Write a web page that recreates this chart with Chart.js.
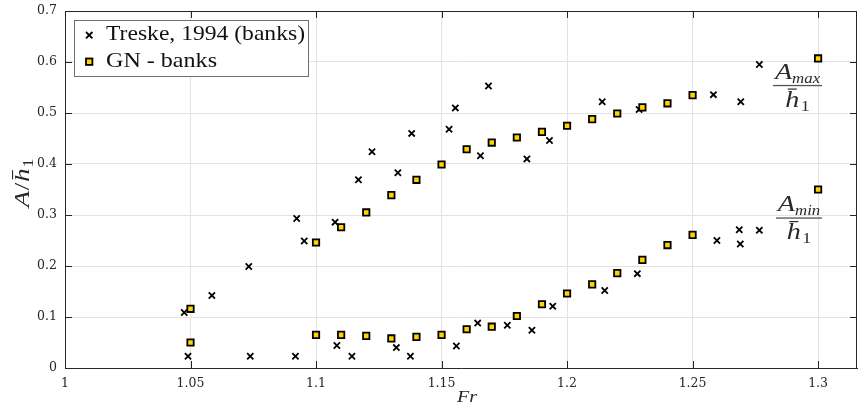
<!DOCTYPE html>
<html>
<head>
<meta charset="utf-8">
<script src="https://cdn.jsdelivr.net/npm/chart.js@4/dist/chart.umd.min.js"></script>
<style>
  html, body { margin: 0; padding: 0; background: #fff; }
  #wrap { width: 859px; height: 416px; }
</style>
</head>
<body>
<div id="wrap"><canvas id="chart" width="859" height="416"></canvas></div>
<script>
// axis ticks
const xTicks = [1, 1.05, 1.1, 1.15, 1.2, 1.25, 1.3];
const xTickLabels = ['1', '1.05', '1.1', '1.15', '1.2', '1.25', '1.3'];
const yTicks = [0, 0.1, 0.2, 0.3, 0.4, 0.5, 0.6, 0.7];
const yTickLabels = ['0', '0.1', '0.2', '0.3', '0.4', '0.5', '0.6', '0.7'];

// GN model, banks
const gnFr  = [1.05, 1.10, 1.11, 1.12, 1.13, 1.14, 1.15, 1.16, 1.17, 1.18, 1.19, 1.20, 1.21, 1.22, 1.23, 1.24, 1.25, 1.30];
const gnMax = [0.116, 0.246, 0.276, 0.305, 0.339, 0.369, 0.399, 0.429, 0.442, 0.452, 0.463, 0.475, 0.488, 0.499, 0.511, 0.519, 0.535, 0.607];
const gnMin = [0.050, 0.065, 0.065, 0.063, 0.058, 0.061, 0.065, 0.076, 0.081, 0.102, 0.125, 0.146, 0.164, 0.186, 0.212, 0.241, 0.261, 0.350];

// Treske (1994) measurements
const trMaxFr = [1.0475, 1.0585, 1.0732, 1.0923, 1.0953, 1.1076, 1.1169, 1.1223, 1.1326, 1.1381, 1.1530, 1.1555, 1.1655, 1.1687, 1.1840, 1.1930, 1.2140, 1.2287, 1.2583, 1.2692, 1.2766];
const trMax   = [0.109, 0.142, 0.199, 0.293, 0.249, 0.286, 0.369, 0.424, 0.383, 0.460, 0.468, 0.510, 0.416, 0.553, 0.410, 0.446, 0.522, 0.507, 0.536, 0.522, 0.595];
const trMinFr = [1.0490, 1.0738, 1.0918, 1.1083, 1.1143, 1.1320, 1.1376, 1.1559, 1.1644, 1.1762, 1.1860, 1.1943, 1.2150, 1.2280, 1.2597, 1.2686, 1.2690, 1.2766];
const trMin   = [0.023, 0.023, 0.023, 0.044, 0.023, 0.040, 0.023, 0.043, 0.088, 0.084, 0.074, 0.121, 0.152, 0.185, 0.250, 0.271, 0.243, 0.270];

const legendLabels = ['Treske, 1994 (banks)', 'GN - banks'];

const AXIS = '#262626';
const GRID = '#e3e3e3';
const GOLD = '#ffd400';
const TICK_FONT = { family: 'DejaVu Serif', size: 12.5 };

function pts(xs, ys) {
    return xs.map((x, i) => ({ x: x, y: ys[i] }));
}

const squareStyle = {
    pointStyle: 'rect', pointRadius: 4.5, pointBorderWidth: 1.8,
    pointBackgroundColor: GOLD, pointBorderColor: '#000', showLine: false
};
const crossStyle = {
    pointStyle: 'crossRot', pointRadius: 4.4, pointBorderWidth: 1.8,
    pointBorderColor: '#000', pointBackgroundColor: '#000', showLine: false
};

// draws a run of text pieces left to right, returns end x
function run(ctx, x, y, parts, draw) {
    parts.forEach(p => {
        ctx.font = p.font;
        if (draw) ctx.fillText(p.t, x, y + (p.dy || 0));
        x += ctx.measureText(p.t).width + (p.kern || 0);
    });
    return x;
}

function runCentered(ctx, cx, y, parts) {
    const w = run(ctx, 0, 0, parts, false);
    run(ctx, cx - w / 2, y, parts, true);
    return cx - w / 2;
}

const IT = (s) => 'italic ' + s + 'px "Liberation Serif"';
const UP = (s) => s + 'px "Liberation Serif"';

// A_sub / h-bar_1 written as a stacked fraction
function drawFraction(ctx, cx, lineY, x0, x1, sub) {
    ctx.save();
    ctx.fillStyle = '#2a2a2a';
    ctx.translate(cx, 0);
    ctx.scale(1.2, 1);
    ctx.textBaseline = 'alphabetic';
    runCentered(ctx, 0, lineY - 7, [
        { t: 'A', font: IT(23.5), kern: 0 },
        { t: sub, font: IT(14), dy: 4 }
    ]);
    const hx = runCentered(ctx, 0, lineY + 21, [
        { t: 'h', font: IT(23.5), kern: 1 },
        { t: '1', font: UP(15), dy: 4 }
    ]);
    ctx.fillRect(hx + 2, lineY + 3, 7.5, 1.2);
    ctx.restore();
    ctx.fillStyle = '#555';
    ctx.fillRect(x0, lineY - 0.6, x1 - x0, 1.3);
}

const decor = {
    id: 'decor',
    afterDraw(chart) {
        const ctx = chart.ctx;
        const a = chart.chartArea;
        const xs = chart.scales.x, ys = chart.scales.y;

        // box and inward ticks
        ctx.save();
        ctx.strokeStyle = AXIS;
        ctx.lineWidth = 1;
        ctx.beginPath();
        ctx.moveTo(a.left, a.top + 0.5); ctx.lineTo(a.right, a.top + 0.5);
        ctx.moveTo(a.right - 0.5, a.top); ctx.lineTo(a.right - 0.5, a.bottom);
        xTicks.forEach(v => {
            const px = Math.round(xs.getPixelForValue(v)) + 0.5;
            ctx.moveTo(px, a.bottom); ctx.lineTo(px, a.bottom - 7);
            ctx.moveTo(px, a.top); ctx.lineTo(px, a.top + 7);
        });
        yTicks.forEach(v => {
            const py = Math.round(ys.getPixelForValue(v)) + 0.5;
            ctx.moveTo(a.left, py); ctx.lineTo(a.left + 7, py);
            ctx.moveTo(a.right, py); ctx.lineTo(a.right - 7, py);
        });
        ctx.stroke();
        ctx.restore();

        // legend
        ctx.save();
        ctx.fillStyle = '#fff';
        ctx.fillRect(74, 20, 234, 56);
        ctx.strokeStyle = '#6e6e6e';
        ctx.lineWidth = 1;
        ctx.strokeRect(74.5, 20.5, 234, 56);
        // cross marker
        ctx.strokeStyle = '#000';
        ctx.lineWidth = 1.8;
        ctx.beginPath();
        ctx.moveTo(86, 32); ctx.lineTo(92.4, 38.4);
        ctx.moveTo(92.4, 32); ctx.lineTo(86, 38.4);
        ctx.stroke();
        // square marker
        ctx.fillStyle = GOLD;
        ctx.fillRect(86, 58.5, 6.4, 6.4);
        ctx.strokeRect(86, 58.5, 6.4, 6.4);
        ctx.fillStyle = '#111';
        ctx.textBaseline = 'alphabetic';
        ctx.font = UP(21.5);
        const widths = [199, 111];
        legendLabels.forEach((t, i) => {
            const w = ctx.measureText(t).width;
            ctx.save();
            ctx.translate(106, i === 0 ? 39.5 : 67);
            ctx.scale(widths[i] / w, 1);
            ctx.fillText(t, 0, 0);
            ctx.restore();
        });
        ctx.restore();

        // curve annotations
        drawFraction(ctx, 797.5, 85.5, 773, 822, 'max');
        drawFraction(ctx, 799, 218, 776, 822, 'min');

        // axis titles
        ctx.save();
        ctx.fillStyle = '#262626';
        ctx.textBaseline = 'alphabetic';
        ctx.translate(467, 402);
        ctx.scale(1.25, 1);
        runCentered(ctx, 0, 0, [{ t: 'Fr', font: IT(16) }]);
        ctx.restore();

        ctx.save();
        ctx.fillStyle = '#262626';
        ctx.textBaseline = 'alphabetic';
        ctx.translate(29, 183);
        ctx.rotate(-Math.PI / 2);
        ctx.scale(1.3, 1);
        const hx = runCentered(ctx, 0, 0, [
            { t: 'A', font: IT(21), kern: 0.5 },
            { t: '/', font: UP(21), kern: 0.5 },
            { t: 'h', font: IT(21), kern: 0.5 },
            { t: '1', font: UP(14), dy: 4 }
        ]);
        ctx.font = IT(21);
        const off = ctx.measureText('A').width + ctx.measureText('/').width + 1;
        ctx.fillRect(hx + off + 2, -17, 7, 1.1);
        ctx.restore();
    }
};

new Chart(document.getElementById('chart'), {
    type: 'scatter',
    data: {
        datasets: [
            Object.assign({ label: 'GN - banks', data: pts(gnFr, gnMax) }, squareStyle),
            Object.assign({ label: 'GN - banks min', data: pts(gnFr, gnMin) }, squareStyle),
            Object.assign({ label: 'Treske, 1994 (banks)', data: pts(trMaxFr, trMax) }, crossStyle),
            Object.assign({ label: 'Treske, 1994 (banks) min', data: pts(trMinFr, trMin) }, crossStyle)
        ]
    },
    options: {
        responsive: false,
        animation: false,
        devicePixelRatio: 1,
        layout: { autoPadding: false, padding: { top: 11, right: 2, left: 0, bottom: 0 } },
        plugins: { legend: { display: false }, tooltip: { enabled: false } },
        scales: {
            x: {
                type: 'linear', min: 1, max: 1.3155,
                afterBuildTicks: s => { s.ticks = xTicks.map(v => ({ value: v })); },
                afterFit: s => { s.height = 48; s.paddingLeft = 0; s.paddingRight = 0; },
                grid: { color: GRID, drawTicks: false },
                border: { color: AXIS, width: 1 },
                ticks: {
                    font: TICK_FONT, color: '#262626', padding: 8,
                    autoSkip: false, maxRotation: 0,
                    callback: (v, i) => xTickLabels[i]
                }
            },
            y: {
                type: 'linear', min: 0, max: 0.7,
                afterBuildTicks: s => { s.ticks = yTicks.map(v => ({ value: v })); },
                afterFit: s => { s.width = 65; s.paddingTop = 0; s.paddingBottom = 0; },
                grid: { color: GRID, drawTicks: false },
                border: { color: AXIS, width: 1 },
                ticks: {
                    font: TICK_FONT, color: '#262626', padding: 8,
                    autoSkip: false,
                    callback: (v, i) => yTickLabels[i]
                }
            }
        }
    },
    plugins: [decor]
});
</script>
</body>
</html>
